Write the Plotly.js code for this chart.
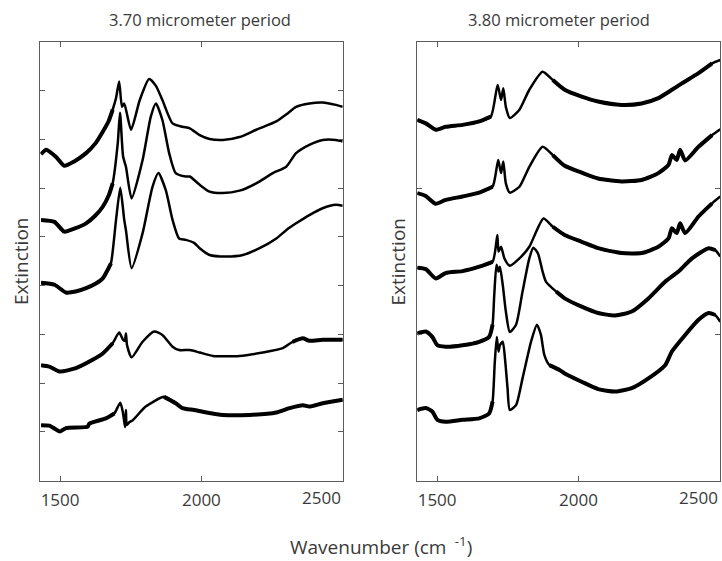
<!DOCTYPE html>
<html>
<head>
<meta charset="utf-8">
<script src="https://cdn.plot.ly/plotly-3.0.1.min.js"></script>
<style>html,body{margin:0;padding:0;background:#fff;}#chart{width:722px;height:561px;}</style>
</head>
<body>
<div id="chart"></div>
<script>
// ---- Panel titles / labels ----
const panelTitles = ["3.70 micrometer period", "3.80 micrometer period"];
const yLabel = "Extinction";
const xLabel = "Wavenumber (cm <sup> -1</sup>)";
const xTickVals = [1500, 2000];
const xEdgeTick = "2500";

// ---- 3.70 micrometer period (left panel), offset spectra, top to bottom ----
const wnL1 = [1433,1451,1486,1515,1550,1592,1625,1651,1672,1686,1698,1709,1719,1727,1751,1782,1815,1839,1862,1898,1933,1959,1994,2029,2076,2135,2194,2265,2306,2335,2382,2429,2476,2500];
const extL1 = [6.70,6.79,6.64,6.46,6.55,6.72,6.92,7.16,7.38,7.61,7.85,8.19,7.67,7.74,7.20,7.81,8.24,8.10,7.81,7.33,7.26,7.23,7.09,7.01,6.99,7.05,7.20,7.37,7.54,7.67,7.74,7.76,7.71,7.67];

const wnL2 = [1433,1480,1515,1550,1592,1625,1651,1672,1686,1704,1712,1723,1733,1753,1792,1821,1839,1862,1886,1909,1945,1959,1994,2029,2076,2135,2194,2253,2300,2335,2382,2429,2476,2500];
const extL2 = [5.35,5.31,5.11,5.17,5.28,5.44,5.62,5.85,6.10,6.92,7.55,6.65,6.44,5.79,6.58,7.47,7.74,7.40,6.72,6.31,6.24,6.24,6.07,5.93,5.90,5.95,6.10,6.31,6.44,6.72,6.89,6.99,6.99,6.96];

const wnL3 = [1433,1480,1521,1555,1592,1625,1651,1668,1680,1698,1713,1727,1733,1753,1792,1827,1848,1874,1898,1921,1945,1974,1994,2029,2088,2147,2206,2265,2300,2335,2382,2429,2476,2500];
const extL3 = [4.06,4.02,3.86,3.88,3.95,4.04,4.15,4.32,4.46,5.35,6.01,5.35,5.14,4.36,5.08,6.03,6.31,5.96,5.35,4.97,4.94,4.88,4.77,4.63,4.60,4.63,4.77,4.97,5.14,5.28,5.45,5.59,5.66,5.64];

const wnL4 = [1433,1462,1498,1556,1615,1651,1686,1709,1723,1729,1733,1737,1753,1792,1833,1862,1898,1921,1959,1994,2041,2135,2217,2288,2323,2359,2382,2429,2500];
const extL4 = [2.37,2.34,2.24,2.31,2.48,2.61,2.82,3.04,2.89,2.87,3.02,2.78,2.53,2.85,3.06,2.99,2.75,2.68,2.68,2.63,2.56,2.56,2.63,2.72,2.85,2.92,2.87,2.89,2.89];

const wnL5 = [1433,1462,1500,1521,1598,1603,1662,1692,1713,1722,1730,1733,1736,1745,1757,1803,1868,1909,1933,1974,2018,2076,2170,2265,2312,2359,2382,2429,2500];
const extL5 = [1.14,1.13,1.01,1.08,1.11,1.17,1.28,1.38,1.60,1.41,1.10,1.45,1.14,1.20,1.24,1.52,1.72,1.59,1.49,1.45,1.40,1.35,1.35,1.40,1.49,1.55,1.52,1.59,1.66];

// ---- 3.80 micrometer period (right panel), offset spectra, top to bottom ----
const wnR1 = [1430,1460,1495,1530,1590,1649,1690,1714,1726,1734,1743,1757,1791,1826,1873,1909,1951,2011,2069,2152,2223,2282,2330,2365,2424,2472,2501];
const extR1 = [7.40,7.33,7.20,7.26,7.30,7.37,7.47,8.12,7.81,8.05,7.67,7.44,7.61,8.02,8.39,8.22,8.02,7.88,7.78,7.71,7.74,7.85,8.02,8.15,8.36,8.56,8.63];

const wnR2 = [1430,1460,1495,1530,1590,1649,1696,1716,1726,1734,1743,1757,1791,1826,1873,1909,1951,2011,2069,2152,2223,2282,2318,2330,2347,2359,2377,2424,2472,2501];
const extR2 = [5.90,5.84,5.68,5.76,5.83,5.91,6.03,6.58,6.31,6.55,6.10,5.91,6.03,6.44,6.85,6.68,6.46,6.32,6.20,6.14,6.17,6.31,6.48,6.68,6.58,6.79,6.57,6.85,7.09,7.21];

const wnR3 = [1430,1460,1495,1530,1590,1649,1696,1713,1717,1726,1738,1757,1791,1826,1876,1909,1951,2011,2069,2152,2223,2282,2318,2330,2347,2359,2377,2424,2472,2501];
const extR3 = [4.37,4.34,4.15,4.26,4.30,4.39,4.49,5.04,4.70,4.80,4.56,4.41,4.56,4.80,5.38,5.21,5.04,4.90,4.77,4.67,4.67,4.80,4.97,5.18,5.08,5.28,5.08,5.42,5.69,5.83];

const wnR4 = [1430,1460,1483,1501,1530,1590,1649,1684,1696,1702,1710,1717,1722,1732,1743,1757,1779,1802,1826,1840,1856,1873,1885,1921,1951,2011,2069,2129,2188,2247,2306,2353,2401,2460,2483,2501];
const extR4 = [3.02,3.06,2.95,2.78,2.75,2.78,2.85,2.95,3.20,3.81,4.43,4.29,4.39,4.02,3.47,3.05,3.20,3.88,4.56,4.78,4.67,4.29,4.08,3.88,3.74,3.57,3.44,3.39,3.47,3.74,4.08,4.29,4.56,4.77,4.73,4.60];

const wnR5 = [1430,1460,1483,1501,1530,1590,1649,1684,1696,1704,1711,1717,1722,1732,1741,1749,1757,1779,1802,1832,1853,1867,1879,1897,1933,1951,2011,2069,2129,2188,2247,2306,2330,2377,2424,2460,2483,2501];
const extR5 = [1.45,1.49,1.42,1.25,1.21,1.25,1.28,1.38,1.62,2.44,2.95,2.65,2.78,2.85,2.44,1.90,1.45,1.55,2.10,2.85,3.20,2.99,2.58,2.37,2.27,2.20,2.03,1.88,1.83,1.90,2.10,2.37,2.65,2.99,3.30,3.44,3.40,3.26];

const leftSeries = [[wnL1,extL1],[wnL2,extL2],[wnL3,extL3],[wnL4,extL4],[wnL5,extL5]];
const rightSeries = [[wnR1,extR1],[wnR2,extR2],[wnR3,extR3],[wnR4,extR4],[wnR5,extR5]];

// Style: wavenumber windows where the measured spectra are noisy (drawn heavier)
const heavyLeft = [[[1430,1690]], [[1430,1690]], [[1430,1690]], [[1430,1700],[2320,2500]], [[1430,1712],[1860,2500]]];
const heavyRight = [[[1430,1700],[1890,2500]], [[1430,1700],[1890,2500]], [[1430,1700],[1890,2500]], [[1430,1700],[1890,2500]], [[1430,1700],[1890,2500]]];

const traces = [];
function addSeries(list, heavy, xa, ya) {
  list.forEach(([x, y], k) => {
    traces.push({x: x, y: y, xaxis: xa, yaxis: ya, type: 'scatter', mode: 'lines',
      line: {color: '#000', width: 2.5, shape: 'spline', smoothing: 0.6}, hoverinfo: 'skip', showlegend: false});
    heavy[k].forEach(([a, b]) => {
      const nx = [], ny = [];
      x.forEach((v, i) => { if (v >= a && v <= b) { nx.push(v); ny.push(y[i]); } });
      traces.push({x: nx, y: ny, xaxis: xa, yaxis: ya, type: 'scatter', mode: 'lines',
        line: {color: '#000', width: 4, shape: 'spline', smoothing: 0.6}, hoverinfo: 'skip', showlegend: false});
    });
  });
}
addSeries(leftSeries, heavyLeft, 'x', 'y');
addSeries(rightSeries, heavyRight, 'x2', 'y2');

const textColor = '#3a3a3a';
const axisColor = '#5c5c5c';
const fontFam = '"Open Sans", "Noto Sans", sans-serif';

function xAxis(domain, anchor) {
  return {domain: domain, anchor: anchor, range: [1430, 2500], tickmode: 'array',
    tickvals: xTickVals, ticks: 'inside', ticklen: 5,
    tickcolor: axisColor, showline: true, linecolor: axisColor, linewidth: 1, mirror: 'ticks',
    showgrid: false, zeroline: false, ticklabelstandoff: 4,
    tickfont: {family: fontFam, size: 17, color: textColor}};
}
function yAxis(domain, anchor, dt) {
  return {domain: domain, anchor: anchor, range: [0, 9], dtick: dt, tick0: 0, ticks: 'inside', ticklen: 5,
    tickcolor: axisColor, showline: true, linecolor: axisColor, linewidth: 1, mirror: 'ticks',
    showgrid: false, zeroline: false, showticklabels: false};
}

const W = 722, H = 561;
const yDom = [(H - 480.7) / H, (H - 42) / H];
const layout = {
  width: W, height: H,
  margin: {l: 0, r: 0, t: 0, b: 0},
  paper_bgcolor: '#fff', plot_bgcolor: '#fff',
  showlegend: false,
  font: {family: fontFam, color: textColor},
  xaxis: xAxis([40.3 / W, 342.7 / W], 'y'),
  yaxis: yAxis(yDom, 'x', 1),
  xaxis2: xAxis([417.3 / W, 720 / W], 'y2'),
  yaxis2: yAxis(yDom, 'x2', 3),
  annotations: [
    {text: panelTitles[0], xref: 'paper', yref: 'paper', x: 200 / W, y: 1 - 20 / H, showarrow: false, xanchor: 'center', yanchor: 'middle', font: {size: 16.5, color: textColor}},
    {text: panelTitles[1], xref: 'paper', yref: 'paper', x: 558.5 / W, y: 1 - 20 / H, showarrow: false, xanchor: 'center', yanchor: 'middle', font: {size: 16.5, color: textColor}},
    {text: yLabel, xref: 'paper', yref: 'paper', x: 21 / W, y: 1 - 262 / H, showarrow: false, textangle: -90, xanchor: 'center', yanchor: 'middle', font: {size: 19, color: textColor}},
    {text: yLabel, xref: 'paper', yref: 'paper', x: 397.5 / W, y: 1 - 262 / H, showarrow: false, textangle: -90, xanchor: 'center', yanchor: 'middle', font: {size: 19, color: textColor}},
    {text: xLabel, xref: 'paper', yref: 'paper', x: 380.5 / W, y: 1 - 546 / H, showarrow: false, xanchor: 'center', yanchor: 'middle', font: {size: 19, color: textColor}},
    {text: xEdgeTick, xref: 'x', yref: 'paper', x: 2500, y: 1 - 497.5 / H, showarrow: false, xanchor: 'right', yanchor: 'middle', font: {size: 17, color: textColor}},
    {text: xEdgeTick, xref: 'x2', yref: 'paper', x: 2500, y: 1 - 497.5 / H, showarrow: false, xanchor: 'right', yanchor: 'middle', font: {size: 17, color: textColor}}
  ]
};

Plotly.newPlot('chart', traces, layout, {staticPlot: true, displayModeBar: false});
</script>
</body>
</html>
